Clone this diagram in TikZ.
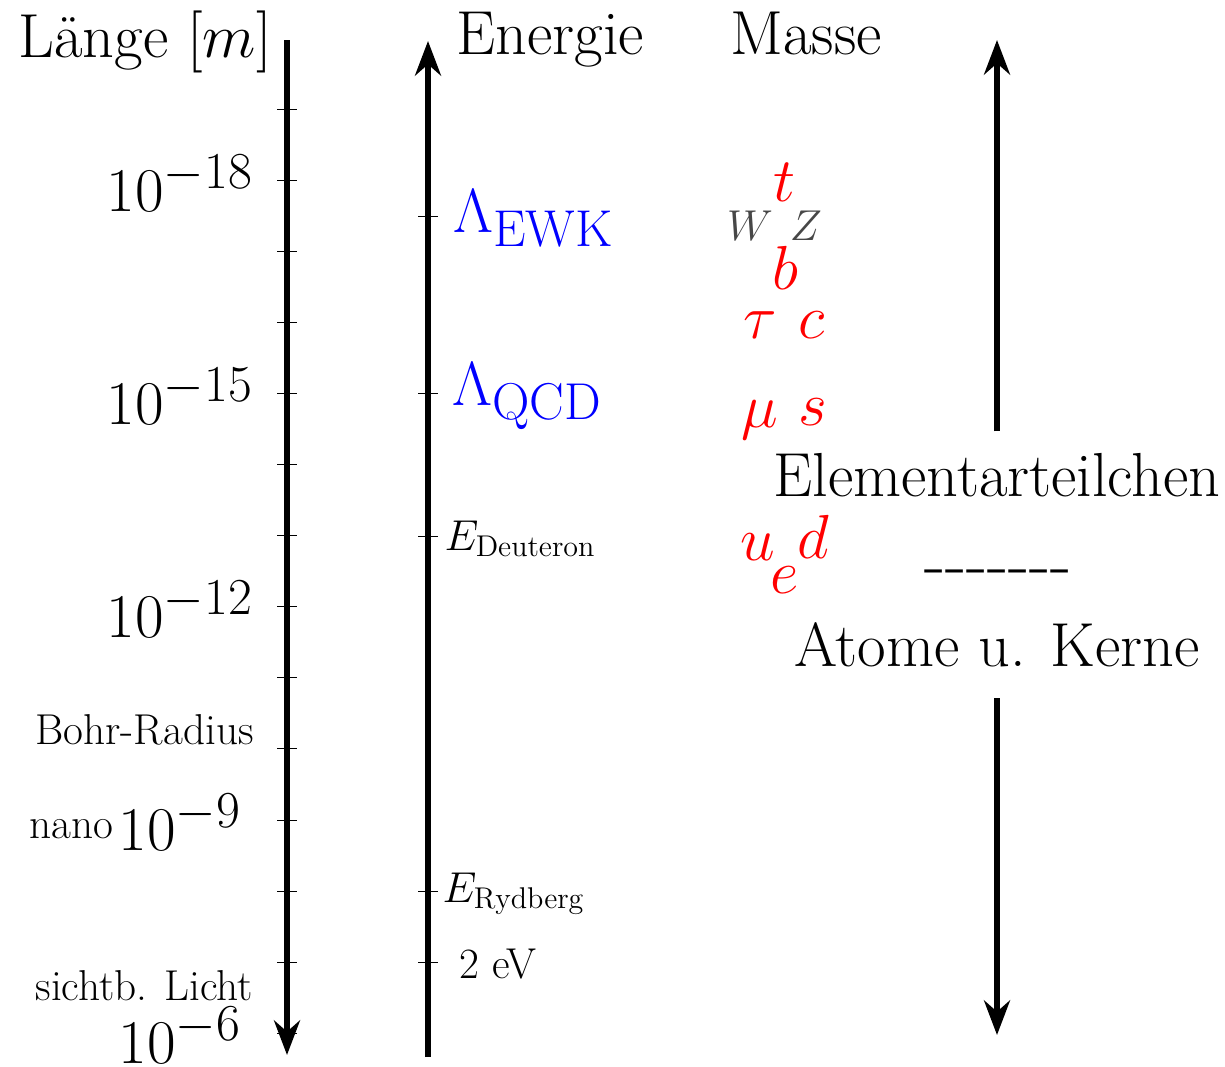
\documentclass[tikz,border=0pt]{standalone}
\usetikzlibrary{arrows.meta}
\begin{document}
\begin{tikzpicture}[x=0.4pt,y=-0.4pt,
  axis/.style={line width=2.4pt},
  tck/.style={line width=0.4pt},
  big/.style={inner sep=0pt, font=\Huge},
  mid/.style={inner sep=0pt, font=\LARGE},
  mass/.style={inner sep=0pt, font=\Huge, text=red},
  scl/.style={inner sep=0pt, font=\Huge, text=blue},
  gauge/.style={inner sep=0pt, font=\LARGE, text=black!72},
  ]
\useasboundingbox (0,0) rectangle (1225,1066);

% ---- length axis
\coordinate (Ltop) at (287,40);
\coordinate (Lbot) at (287,1055);
\draw[axis,-{Stealth}] (Ltop) -- (Lbot);
\foreach \i in {0,...,13}
  \draw[tck] (277,{109+71.1*\i}) -- (297,{109+71.1*\i});

% ---- energy axis
\coordinate (Ebot) at (428,1057);
\coordinate (Etop) at (428,41);
\draw[axis,-{Stealth}] (Ebot) -- (Etop);
\foreach \y in {216,393,536,891,962}
  \draw[tck] (418,\y) -- (438,\y);

% ---- headings
\node[big, anchor=base west] (laenge) at (18,57) {Länge [$m$]};
\node[big, anchor=base west] (energie) at (456,54) {Energie};
\node[big, anchor=base west] (masse) at (730,54) {Masse};

% ---- length labels
\node[big, anchor=base] (l18) at (180,211) {$10^{-18}$};
\node[big, anchor=base] (l15) at (180,424) {$10^{-15}$};
\node[big, anchor=base] (l12) at (180,637) {$10^{-12}$};
\node[big, anchor=base] (l9)  at (180,850) {$10^{-9}$};
\node[big, anchor=base] (l6)  at (180,1063) {$10^{-6}$};
\node[mid, anchor=base east] (nano) at (114,838) {nano};
\node[mid, anchor=base west] (bohr) at (35,744) {Bohr-Radius};
\node[mid, anchor=base west] (licht) at (35,1000) {sichtb. Licht};

% ---- energy labels
\node[scl, anchor=base west] (ewk) at (453,232) {$\Lambda_{\mathrm{EWK}}$};
\node[scl, anchor=base west] (qcd) at (452,405) {$\Lambda_{\mathrm{QCD}}$};
\node[mid, anchor=base west] (deut) at (444,550) {$E_{\mathrm{Deuteron}}$};
\node[mid, anchor=base west] (ryd) at (442,902) {$E_{\mathrm{Rydberg}}$};
\node[mid, anchor=base west] (ev) at (459,978) {2 eV};

% ---- masses
\node[mass, anchor=base] (t) at (784,201) {$t$};
\node[gauge, anchor=base] (W) at (750,240) {$W$};
\node[gauge, anchor=base] (Z) at (806,240) {$Z$};
\node[mass, anchor=base] (b) at (785,289) {$b$};
\node[mass, anchor=base] (tau) at (760,338) {$\tau$};
\node[mass, anchor=base] (c) at (812,338) {$c$};
\node[mass, anchor=base] (mu) at (760,427) {$\mu$};
\node[mass, anchor=base] (s) at (813,425) {$s$};
\node[mass, anchor=base] (u) at (758,560) {$u$};
\node[mass, anchor=base] (d) at (813,558) {$d$};
\node[mass, anchor=base] (e) at (785,593) {$e$};

% ---- right block
\node[font=\Huge, inner xsep=0pt, inner ysep=8.4pt, anchor=base] (elem) at (997,496) {Elementarteilchen};
\node[inner sep=0pt, font=\fontsize{28}{34}\selectfont, anchor=base] (dash) at (998,586) {-{}-{}-{}-{}-{}-{}-};
\node[font=\Huge, inner xsep=0pt, inner ysep=12.4pt, anchor=base] (atome) at (997,666) {Atome u. Kerne};
\coordinate (uptip) at (997,40);
\coordinate (downtip) at (997,1035);
\draw[axis,-{Stealth}] (elem.north) -- (uptip);
\draw[axis,-{Stealth}] (atome.south) -- (downtip);
\end{tikzpicture}
\end{document}
